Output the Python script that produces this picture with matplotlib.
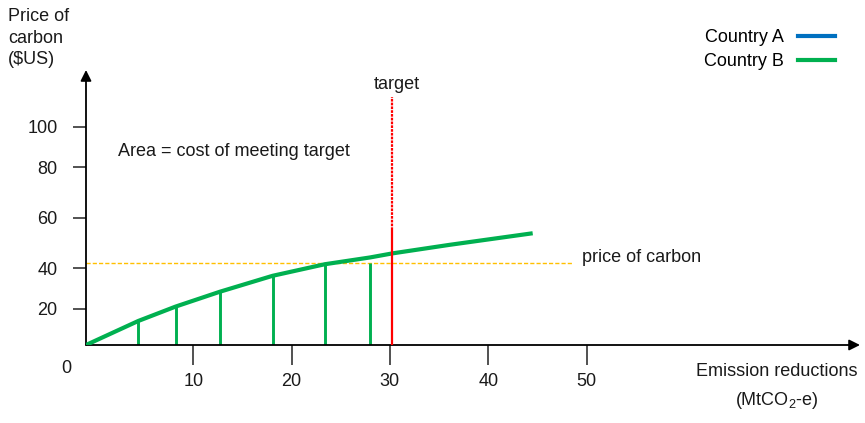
import matplotlib.pyplot as plt
from matplotlib.lines import Line2D

plt.rcParams['font.family'] = ['Liberation Sans', 'DejaVu Sans']
plt.rcParams['mathtext.fontset'] = 'custom'
plt.rcParams['mathtext.rm'] = 'Liberation Sans'
plt.rcParams['mathtext.it'] = 'Liberation Sans'

# marginal cost curve of Country B
curve_x = [-0.9, 4.41, 8.21, 12.71, 18.07, 23.38, 27.96, 30.29, 36.08, 44.52]
curve_y = [0, 11.0, 17.6, 24.4, 31.7, 37.0, 40.1, 42.0, 45.9, 51.2]

# vertical strips under the curve
strip_x = [4.41, 8.21, 12.71, 18.07, 23.38, 27.96]
strip_top = [11.0, 17.6, 24.4, 31.7, 37.0, 37.5]

target_x = 30.26
target_solid_top = 52.8
target_dotted_top = 113.6
carbon_price = 37.8
carbon_price_end = 48.6

xticks = [10, 20, 30, 40, 50]
yticks = [16.5, 35.2, 58.4, 81.5, 99.9]
ytick_labels = ['20', '40', '60', '80', '100']

legend_labels = ['Country A', 'Country B']
legend_colors = ['#0070C0', '#00B050']

GREEN = '#00B050'
RED = '#FF0000'
GOLD = '#FFC000'
TXT = '#1a1a1a'
FS = 13

fig = plt.figure(figsize=(8.65, 4.23), dpi=100)
W, H = 865, 423
ax = fig.add_axes([86 / W, (H - 345) / H, (860 - 86) / W, (345 - 70) / H])
ax.set_xlim(-0.9, 77.8)
ax.set_ylim(0, 126)

for s in ['top', 'right', 'left', 'bottom']:
    ax.spines[s].set_visible(False)

# axes with arrowheads
arrow = dict(arrowstyle='-|>', lw=1.3, color='black', mutation_scale=16,
             shrinkA=0, shrinkB=0)
ax.annotate('', xy=(0, 1), xytext=(0, 0), xycoords='axes fraction',
            textcoords='axes fraction', arrowprops=arrow)
ax.annotate('', xy=(1, 0), xytext=(0, 0), xycoords='axes fraction',
            textcoords='axes fraction', arrowprops=arrow)

ax.set_xticks(xticks)
ax.set_xticklabels([str(t) for t in xticks])
ax.set_yticks(yticks)
ax.set_yticklabels(ytick_labels)
ax.tick_params(axis='x', direction='out', length=14.4, width=1.2, pad=6,
               labelsize=FS, colors='#333333', labelcolor=TXT)
ax.tick_params(axis='y', direction='out', length=9.4, width=1.2, pad=11,
               labelsize=FS, colors='#333333', labelcolor=TXT)

# curve and strips
ax.plot(curve_x, curve_y, color=GREEN, lw=3, solid_capstyle='butt',
        solid_joinstyle='round', zorder=3)
ax.vlines(strip_x, 0, strip_top, color=GREEN, lw=2.1, zorder=2)

# target line
ax.vlines(target_x, 0, target_solid_top, color=RED, lw=1.6, zorder=4)
ax.plot([target_x, target_x], [target_solid_top, target_dotted_top], color=RED,
        lw=1.6, linestyle=(0, (1.2, 0.5)), zorder=4)

# price of carbon line
ax.plot([-0.9, carbon_price_end], [carbon_price, carbon_price], color=GOLD,
        lw=1.0, linestyle=(0, (3, 1.5)), zorder=1)

ax.text(2.35, 88.7, 'Area = cost of meeting target', fontsize=FS, color=TXT,
        va='center', ha='left')
ax.text(30.67, 119.3, 'target', fontsize=FS, color=TXT, va='center', ha='center')
ax.text(49.57, 40.2, 'price of carbon', fontsize=FS, color=TXT, va='center',
        ha='left')
ax.text(-2.87, -10.6, '0', fontsize=FS, color=TXT, va='center', ha='center')

fig.text(8 / W, 1 - 8 / H, 'Price of\ncarbon\n(\\$US)', fontsize=FS, color=TXT,
         va='top', ha='left', linespacing=1.36)
fig.text(858 / W, 1 - 371.7 / H, 'Emission reductions', fontsize=FS, color=TXT,
         va='center', ha='right')
fig.text(777 / W, 1 - 400 / H, '(MtCO$_2$-e)', fontsize=FS, color=TXT,
         va='center', ha='center')

handles = [Line2D([], [], color=c, lw=3) for c in legend_colors]
fig.legend(handles, legend_labels, loc='upper right',
           bbox_to_anchor=(835 / W, 1 - 29 / H), frameon=False, fontsize=FS,
           markerfirst=False, handlelength=2.05, handletextpad=0.78,
           labelspacing=0.38, borderpad=0, borderaxespad=0)

fig.savefig('out.png', dpi=100)
